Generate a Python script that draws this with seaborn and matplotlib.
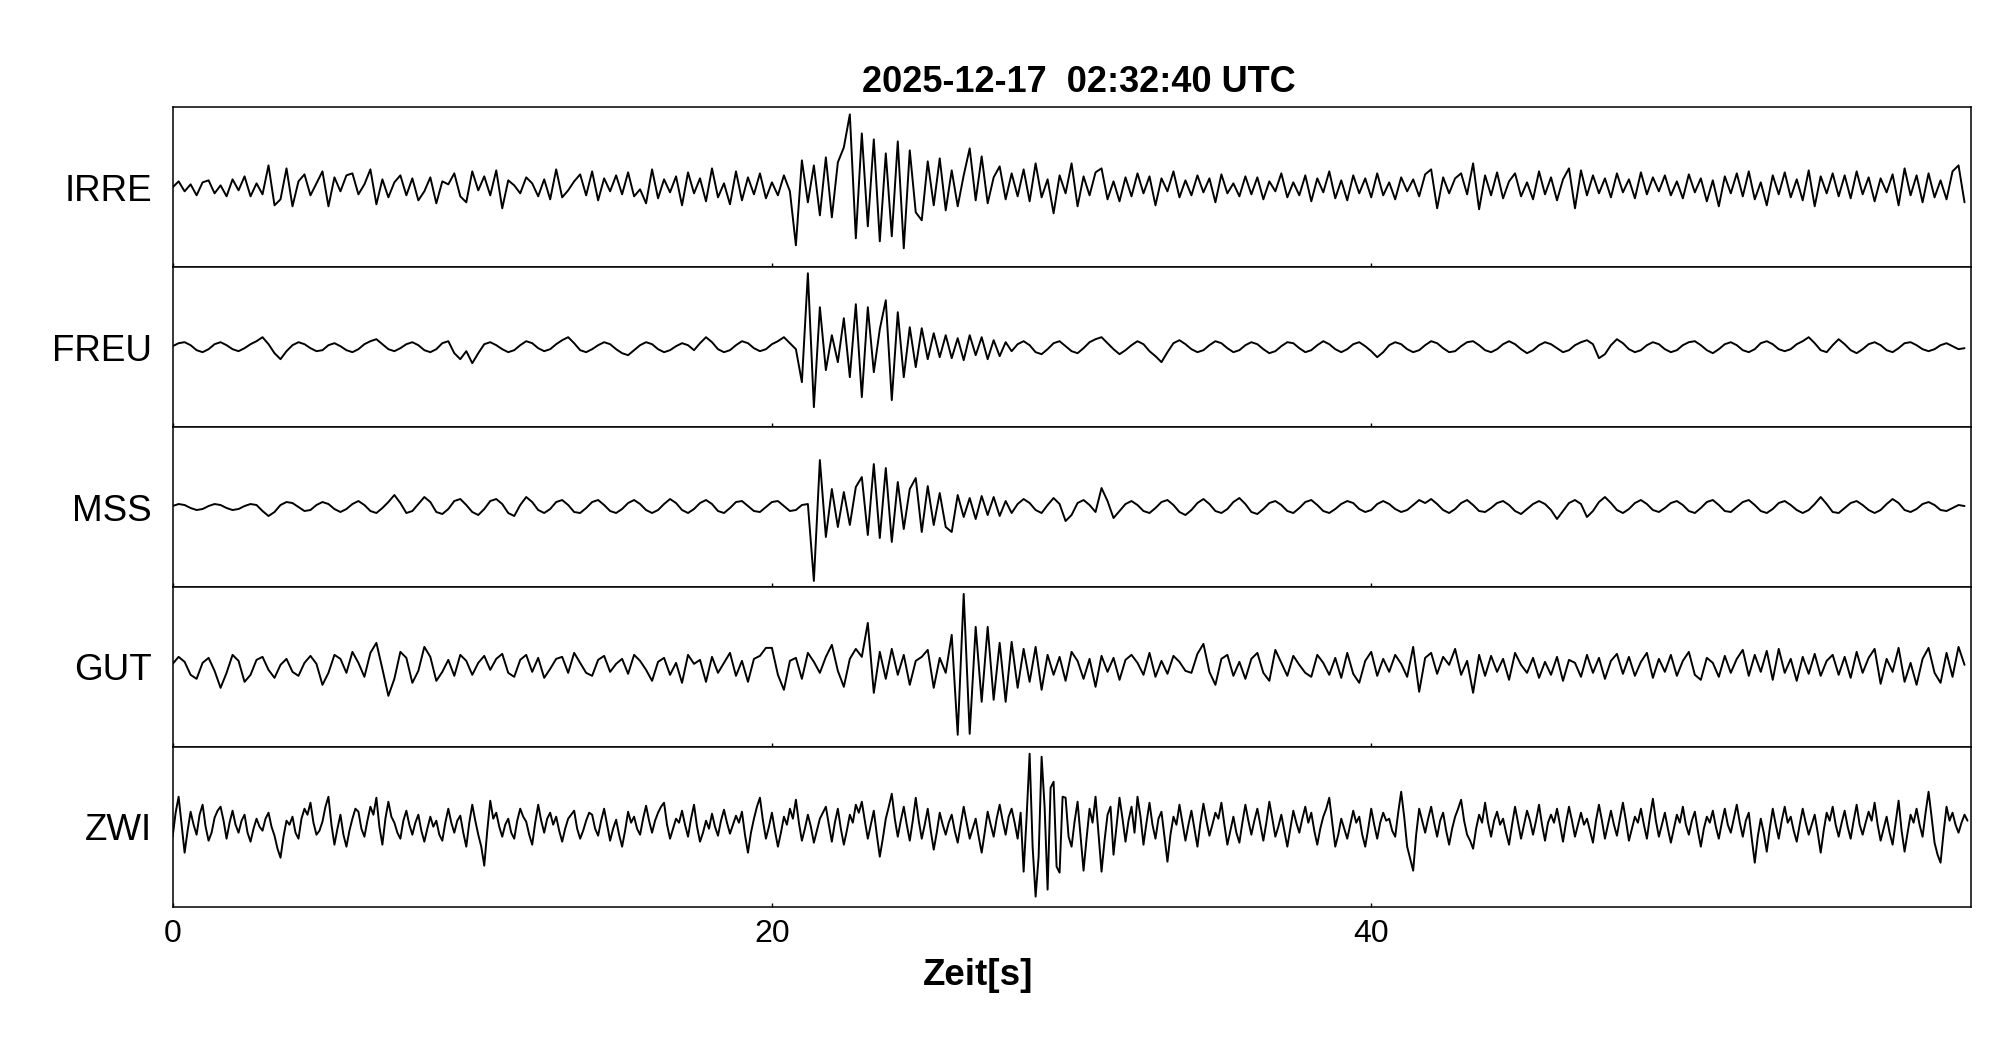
import numpy as np
import matplotlib
matplotlib.use("Agg")
import matplotlib.pyplot as plt
import seaborn as sns

# Stationen (von oben nach unten)
stations = ["IRRE", "FREU", "MSS", "GUT", "ZWI"]

dt_coarse = 0.2
dt_fine = 0.1

# Amplituden (Pixel relativ zur Nulllinie, positiv = oben)
irre = [
    0, 6, -4, 3, -8, 5, 7, -6, 2, -9,
    8, -3, 11, -9, 4, -7, 22, -18, -12, 19,
    -19, 6, 13, -8, 4, 16, -19, 10, -4, 12,
    14, -7, 3, 18, -17, 8, -10, 5, 12, -8,
    9, -13, -4, 10, -16, 6, 3, 14, -9, -15,
    16, -3, 11, -8, 17, -21, 7, 2, -6, 10,
    4, -9, 8, -12, 18, -10, -3, 6, 13, -8,
    16, -13, 9, -4, 12, -7, 15, -9, -2, -16,
    18, -11, 8, -5, 11, -18, 15, -6, 9, -14,
    19, -10, 4, -17, 16, -13, 10, -7, 14, -11,
    5, -8, 12, -4, -58, 27, -15, 22, -28, 30,
    -30, 25, 40, 73, -51, 54, -39, 48, -54, 34,
    -49, 46, -61, 37, -25, -33, 26, -18, 29, -23,
    17, -19, 12, 39, -13, 31, -16, 10, 21, -12,
    14, -9, 18, -14, 24, -10, 8, -26, 12, -6,
    24, -19, 11, -8, 15, 19, -12, 6, -14, 10,
    -9, 14, -6, 11, -18, 9, -4, 16, -10, 7,
    -8, 12, -5, 9, -15, 13, -6, 4, -9, 11,
    -7, 10, -12, 6, -4, 14, -10, 5, -8, 12,
    -14, 9, -5, 16, -11, 7, -13, 12, -6, 9,
    -10, 14, -8, 5, -12, 10, -4, 8, -9, 13,
    18, -21, 10, -6, 9, 14, -7, 24, -22, 12,
    -8, 15, -11, 6, 14, -9, 5, -12, 16, -7,
    10, -13, 8, 19, -21, 17, -8, 12, -6, 9,
    -10, 14, -5, 8, -11, 15, -7, 10, -4, 12,
    -8, 6, -11, 13, -5, 9, -14, 7, -19, 11,
    -6, 14, -9, 16, -12, 5, -18, 12, -7, 15,
    -10, 8, -13, 17, -19, 11, -6, 14, -9, 12,
    -11, 16, -7, 10, -14, 9, -5, 13, -18, 19,
    -8, 12, -15, 14, -10, 7, -12, 16, 22, -15,
]

freu = [
    1, 4, 5, 2, -3, -5, -2, 3, 5, 2,
    -2, -4, -1, 3, 6, 10, 3, -6, -12, -4,
    2, 5, 3, -1, -4, -3, 2, 4, 1, -3,
    -5, -2, 3, 6, 8, 3, -2, -4, -1, 3,
    5, 2, -3, -5, -2, 4, 6, -6, -12, -4,
    -16, -6, 3, 5, 2, -2, -5, -3, 2, 6,
    4, -1, -4, -2, 3, 7, 10, 4, -3, -5,
    -2, 2, 5, 3, -2, -6, -8, -3, 2, 5,
    3, -2, -5, -3, 1, 4, 2, -3, 4, 10,
    5, -2, -5, -3, 2, 6, 4, -1, -4, -2,
    3, 6, 10, 4, -2, -35, 74, -60, 40, -23,
    12, -15, 29, -30, 43, -50, 40, -25, 18, 47,
    -53, 35, -30, 20, -20, 19, -12, 14, -10, 12,
    -11, 9, -13, 12, -8, 10, -12, 7, -9, 5,
    -4, 3, 6, 2, -5, -7, -2, 4, 6, 1,
    -4, -6, -1, 5, 8, 10, 4, -2, -7, -3,
    2, 6, 3, -4, -9, -15, -5, 4, 7, 3,
    -2, -5, -3, 2, 6, 4, -1, -5, -3, 2,
    5, 3, -2, -6, -4, 1, 5, 4, -1, -5,
    -3, 2, 6, 3, -2, -5, -2, 3, 5, 1,
    -4, -10, -5, 2, 5, 3, -2, -5, -3, 2,
    6, 4, -1, -5, -4, 1, 5, 6, 2, -3,
    -5, -2, 3, 6, 3, -2, -6, -3, 2, 5,
    3, -1, -5, -3, 2, 5, 7, 3, -11, -7,
    2, 8, 4, -2, -5, -3, 2, 5, 3, -2,
    -5, -3, 2, 5, 6, 2, -3, -6, -2, 3,
    5, 2, -3, -5, -2, 4, 6, 3, -2, -4,
    -2, 3, 6, 10, 4, -3, -5, 2, 8, 3,
    -3, -6, -2, 3, 5, 2, -3, -5, -1, 4,
    5, 2, -2, -4, -2, 2, 4, 1, -2, -1,
]

mss = [
    1, 3, 2, -1, -3, -2, 1, 3, 2, -1,
    -3, -2, 1, 3, 2, -4, -9, -5, 2, 5,
    4, 0, -4, -3, 2, 5, 3, -2, -5, -2,
    3, 6, 2, -4, -6, -1, 5, 12, 4, -6,
    -4, 3, 10, 5, -5, -7, -2, 6, 8, 2,
    -5, -8, -2, 6, 8, 3, -6, -9, 2, 10,
    5, -3, -6, -2, 5, 7, 2, -5, -6, -1,
    5, 7, 2, -4, -6, -2, 4, 7, 3, -3,
    -6, -3, 3, 8, 4, -3, -6, -2, 4, 7,
    3, -4, -6, -1, 5, 6, 1, -4, -5, 0,
    5, 6, 1, -4, -3, 2, 3, -74, 47, -30,
    18, -20, 15, -18, 20, 30, -28, 43, -31, 39,
    -35, 25, -22, 18, 29, -25, 21, -18, 14, -20,
    -25, 12, -10, 9, -12, 11, -8, 10, -9, 6,
    -6, 3, 8, 4, -3, -6, 2, 9, 3, -14,
    -8, 4, 7, 2, -5, 19, 6, -11, -4, 3,
    6, 2, -4, -6, -1, 5, 7, 2, -5, -8,
    -3, 4, 8, 3, -4, -6, -2, 5, 9, 3,
    -5, -7, -2, 4, 6, 2, -4, -6, -1, 5,
    7, 2, -4, -6, -2, 3, 6, 4, -2, -5,
    -3, 3, 6, 3, -2, -5, -3, 2, 7, 4,
    8, 3, -3, -6, -2, 4, 7, 2, -4, -5,
    -1, 4, 6, 2, -4, -7, -2, 3, 6, 3,
    -3, -12, -4, 4, 7, 3, -10, -4, 5, 10,
    4, -3, -6, -2, 4, 7, 3, -3, -5, -1,
    4, 6, 2, -4, -6, -1, 5, 7, 2, -4,
    -5, 0, 5, 7, 2, -4, -6, -2, 4, 6,
    2, -3, -6, -3, 3, 10, 3, -5, -6, -1,
    4, 6, 2, -3, -6, -3, 3, 8, 4, -3,
    -5, -2, 3, 5, 2, -3, -4, -1, 2, 1,
]

gut = [
    3, 10, 5, -8, -12, 4, 9, -4, -21, -6,
    12, 6, -15, -8, 7, 10, -3, -11, 2, 8,
    -5, -9, 4, 11, 3, -18, -6, 12, 8, -6,
    15, 4, -10, 14, 24, -2, -29, -12, 15, 9,
    -16, -4, 20, 10, -14, -5, 7, -9, 12, 6,
    -8, 4, 11, -3, 8, 13, -6, -10, 7, 12,
    -5, 9, -11, -2, 8, 10, -6, 14, 4, -6,
    -9, 7, 11, -5, 3, 8, -7, 12, 6, -3,
    -14, 5, 9, -8, 4, -16, 12, 3, 7, -15,
    10, -6, 4, 14, -9, 6, -15, 8, 11, 19,
    19, -8, -23, 6, 9, -12, 14, 5, -6, 10,
    22, -4, -20, 8, 18, 10, 44, -26, 15, -12,
    18, -8, 12, -18, 6, 10, 17, -21, 9, -6,
    32, -68, 73, -67, 40, -35, 40, -33, 24, -35,
    25, -21, 18, -15, 20, -23, 12, -8, 10, -14,
    15, 6, -12, 8, -20, 11, -5, 9, -13, 7,
    12, 4, -8, 14, -10, 6, -7, 11, 5, -4,
    -6, 13, 23, -5, -18, 8, 12, -9, 5, -12,
    8, 14, -6, -14, 17, 4, -9, 11, 2, -6,
    -10, 12, 4, -8, 9, -11, 14, -7, -16, 6,
    15, -9, 8, -5, 12, 3, -10, 20, -25, 9,
    14, -7, 10, 2, 18, -8, 6, -26, 12, -9,
    11, -5, 8, -13, 14, 2, -6, 9, -11, 5,
    -8, 10, -14, 7, 4, -10, 12, -6, 9, -12,
    6, 13, -7, 10, -9, 5, 14, -11, 8, -5,
    12, -9, 6, 15, -8, -13, 9, 4, -10, 11,
    -6, 8, 17, -9, 12, -5, 16, -13, 18, -6,
    8, -14, 10, -7, 13, -9, 6, 12, -8, 10,
    -11, 15, -6, 9, 18, -17, 8, -5, 19, -15,
    4, -18, 8, 19, -6, -16, 14, -10, 20, 2,
]

zwi = [
    -10, 14, 30, 2, -26, -4, 15, 2, -8, 12, 22, 0, -14, -6, 9, 16, 20, 6, -12, 4,
    16, 2, -6, 6, 12, -6, -15, -2, 8, 0, -4, 8, 14, 0, -9, -22, -31, -10, 6, 2,
    10, -6, -12, 8, 18, 12, 24, 4, -8, -4, 5, 20, 30, 2, -18, -2, 12, -8, -20, -4,
    8, 18, 15, -2, -10, 6, 20, 12, 29, 0, -18, 8, 25, 10, 4, -6, -12, 6, 16, 2,
    -8, 4, 12, -4, -15, -2, 10, 0, 6, -8, -14, 4, 18, 4, -6, 6, 11, -6, -20, 4,
    22, 6, -8, -20, -39, -4, 26, 8, 14, 0, -10, 2, 8, -6, -12, 6, 18, 10, 5, -8,
    -18, 4, 22, 6, -6, 8, 14, 2, 10, -4, -15, -2, 8, 12, 16, -2, -12, -4, 6, 14,
    12, -2, -9, 6, 18, 2, -14, -2, 7, -8, -20, -4, 15, 4, 10, -2, -8, 8, 21, 6,
    -6, 6, 14, 20, 24, 2, -12, -2, 8, 4, 16, 2, -10, 8, 22, 0, -15, -6, 6, -2,
    13, 0, -9, 6, 17, 4, -7, 2, 11, 4, 15, -8, -26, -6, 8, 20, 29, 6, -12, 0,
    14, -4, -20, -6, 10, 2, 18, 8, 27, 4, -14, -2, 12, 0, -16, -4, 8, 14, 20, 2,
    -15, 4, 18, -2, -18, -4, 12, 4, 22, 14, 25, 6, -12, 2, 16, -8, -30, -12, 8, 20,
    33, 8, -10, 6, 20, 2, -14, 6, 29, 6, -12, 2, 18, -4, -23, -6, 14, 2, -8, 4,
    12, -4, -16, 2, 20, 4, -12, -2, 8, -10, -26, -6, 15, 2, -10, 8, 22, 6, -8, 10,
    18, 4, -12, 14, -45, 10, 73, -20, -70, -30, 70, 20, -63, 39, 45, -40, -46, 30, 29, -10,
    -20, 5, 25, -10, -44, -12, 18, 4, 30, -8, -45, -14, 12, 20, -28, 0, 29, 8, -15, 6,
    20, -6, 30, 10, -18, 4, 24, 2, -12, 8, 15, -10, -35, -8, 10, 2, 22, 4, -14, 2,
    16, -2, -20, 4, 23, 6, -9, 2, 14, 8, 24, 2, -18, -4, 10, -6, -16, 4, 22, 6,
    -8, 6, 18, 2, -14, 4, 25, 8, -10, 0, 12, -4, -20, -2, 16, 4, -6, 8, 20, 4,
    14, -4, -18, -2, 10, 18, 29, 4, -20, -8, 8, -2, -12, 2, 16, 4, 10, -8, -20, -2,
    18, 2, -12, 4, 14, 6, 8, -4, -10, 14, 35, 10, -20, -32, -44, -8, 18, 6, -6, 8,
    20, 4, -10, 6, 14, -4, -18, -2, 10, 18, 27, 6, -8, -14, -22, -2, 12, 4, 24, 4,
    -10, 6, 15, 2, 8, -6, -18, 2, 20, 4, -12, 2, 16, 6, -8, 6, 22, 2, -14, 4,
    12, 4, 18, 2, -15, 4, 20, 6, -10, 2, 14, 2, 8, -4, -16, 6, 22, 6, -12, 2,
    16, 2, -9, 8, 24, 6, -14, -2, 10, 4, 18, 2, -12, 10, 28, 6, -10, 2, 14, -2,
    -16, -2, 12, 4, 20, 2, -8, 6, 15, -4, -20, -2, 10, 4, 16, 0, -12, 4, 18, 2,
    -6, 8, 22, 4, -10, 6, 14, -12, -36, -10, 8, -6, -25, -2, 18, 2, -12, 6, 20, 4,
    10, -4, -15, 2, 18, 4, -8, 2, 12, -6, -26, -4, 14, 6, 20, 2, -10, 4, 16, 0,
    -12, 6, 22, 2, -8, 4, 15, 6, 24, 2, -14, -2, 10, -6, -18, 4, 26, -4, -25, -6,
    12, 4, 18, 2, -10, 14, 35, 10, -16, -28, -36, -6, 20, 6, 14, 2, -6, 4, 12, 6,
]

traces = [irre, freu, mss, gut, zwi]
steps = [dt_coarse, dt_coarse, dt_coarse, dt_coarse, dt_fine]
xticks = [0, 20, 40]

sns.set_theme(style="white")
plt.rcParams["font.family"] = ["Liberation Sans", "DejaVu Sans"]
plt.rcParams["text.color"] = "black"
plt.rcParams["axes.labelcolor"] = "black"
plt.rcParams["xtick.color"] = "black"
plt.rcParams["ytick.color"] = "black"

fig = plt.figure(figsize=(20.05, 10.41), dpi=100)
axes = fig.subplots(len(stations), 1, sharex=True, gridspec_kw=dict(hspace=0))
fig.subplots_adjust(left=0.0861, right=0.9828, bottom=0.1291, top=0.8968)

for ax, name, vals, step in zip(axes, stations, traces, steps):
    t = np.arange(len(vals)) * step
    sns.lineplot(x=t, y=vals, ax=ax, color="black", linewidth=1.4, estimator=None)
    ax.set_xlim(0, 60)
    ax.set_ylim(-80, 80)
    ax.set_yticks([0])
    ax.set_yticklabels([name], fontsize=26.5)
    ax.tick_params(axis="y", length=0, pad=15)
    ax.set_xticks(xticks)
    ax.tick_params(axis="x", direction="in", length=3, width=1, color="black",
                   bottom=True, top=False, labelsize=23, pad=9)
    ax.set_xlabel("")
    ax.set_ylabel("")
    for sp in ax.spines.values():
        sp.set_color("black")
        sp.set_linewidth(1.1)

fig.text(0.5382, 0.921, "2025-12-17  02:32:40 UTC", ha="center", va="center",
         fontsize=26, fontweight="bold")
fig.text(0.4878, 0.0625, "Zeit[s]", ha="center", va="center",
         fontsize=26.5, fontweight="bold")

fig.savefig("out.png", dpi=100)
